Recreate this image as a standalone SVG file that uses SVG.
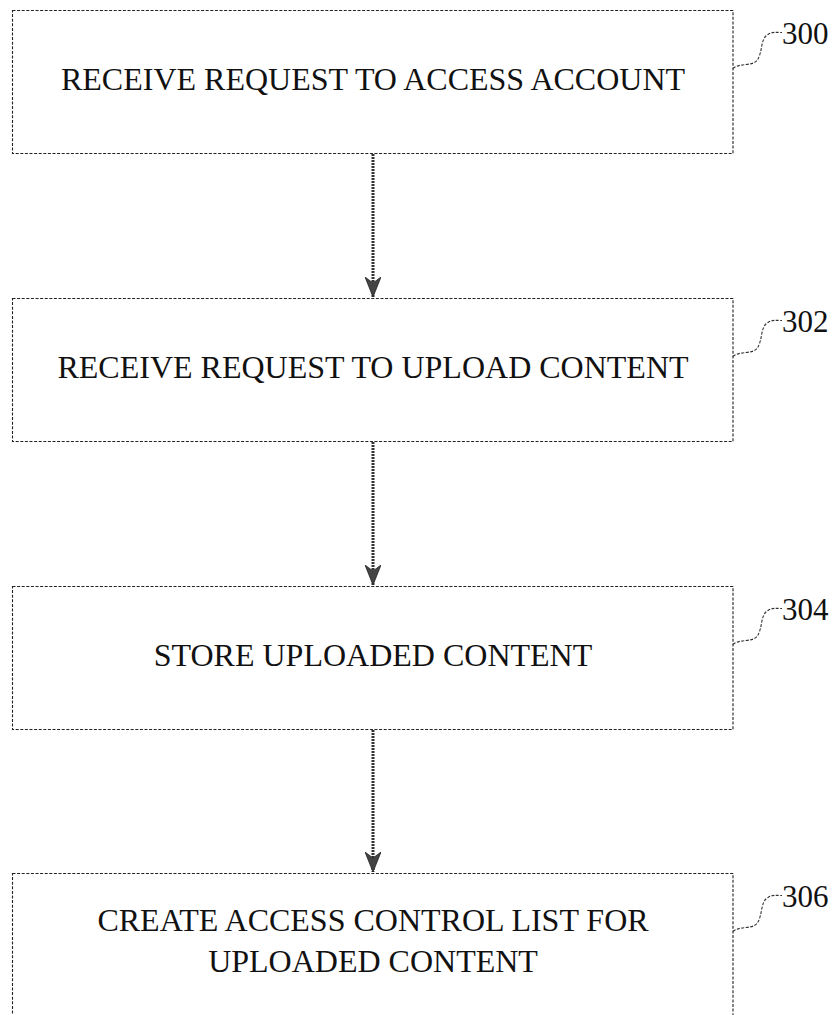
<svg xmlns="http://www.w3.org/2000/svg" width="835" height="1015" viewBox="0 0 835 1015">
<style>
.box{fill:#fff;stroke:#222;stroke-width:1.1;stroke-dasharray:3 1.6}
.t{font-family:"Liberation Serif","Times New Roman",serif;font-size:32px;fill:#111;text-anchor:middle}
.lbl{font-family:"Liberation Serif","Times New Roman",serif;font-size:31px;fill:#111}
.leader{fill:none;stroke:#333;stroke-width:1.1;stroke-dasharray:3 1.5}
.conn{fill:none;stroke:#333;stroke-width:3;stroke-dasharray:2 1;marker-end:url(#ah)}
</style>
<defs>
<marker id="ah" viewBox="0 0 20 16" refX="20" refY="8" markerWidth="20" markerHeight="16" markerUnits="userSpaceOnUse" orient="auto">
<path d="M0,0 L20,8 L0,16 L6,8 Z" fill="#444" stroke="#222" stroke-width="0.8"/>
</marker>
</defs>
<rect width="835" height="1015" fill="#fff"/>
<g id="connectors">
<path class="conn" d="M373,154 V297"/>
<path class="conn" d="M373,442 V585"/>
<path class="conn" d="M373,730 V872"/>
</g>
<g id="n300">
<rect class="box" x="12.5" y="10.5" width="720.5" height="143"/>
<text class="t" x="373" y="90">RECEIVE REQUEST TO ACCESS ACCOUNT</text>
<path class="leader" d="M733,68.5 C740,62.5 752,66.5 757,60.5 C763,52.5 760,38.5 768,34.5 C772,31.5 776,32.5 782,32.5"/>
<text class="lbl" x="782" y="44">300</text>
</g>
<g id="n302">
<rect class="box" x="12.5" y="298.5" width="720.5" height="143"/>
<text class="t" x="373" y="378">RECEIVE REQUEST TO UPLOAD CONTENT</text>
<path class="leader" d="M733,356.5 C740,350.5 752,354.5 757,348.5 C763,340.5 760,326.5 768,322.5 C772,319.5 776,320.5 782,320.5"/>
<text class="lbl" x="782" y="332">302</text>
</g>
<g id="n304">
<rect class="box" x="12.5" y="586.5" width="720.5" height="143"/>
<text class="t" x="373" y="666">STORE UPLOADED CONTENT</text>
<path class="leader" d="M733,644.5 C740,638.5 752,642.5 757,636.5 C763,628.5 760,614.5 768,610.5 C772,607.5 776,608.5 782,608.5"/>
<text class="lbl" x="782" y="620">304</text>
</g>
<g id="n306">
<rect class="box" x="12.5" y="873.5" width="720.5" height="143"/>
<text class="t" x="373" y="931">CREATE ACCESS CONTROL LIST FOR</text>
<text class="t" x="373" y="972">UPLOADED CONTENT</text>
<path class="leader" d="M733,931.5 C740,925.5 752,929.5 757,923.5 C763,915.5 760,901.5 768,897.5 C772,894.5 776,895.5 782,895.5"/>
<text class="lbl" x="782" y="907">306</text>
</g>
</svg>
